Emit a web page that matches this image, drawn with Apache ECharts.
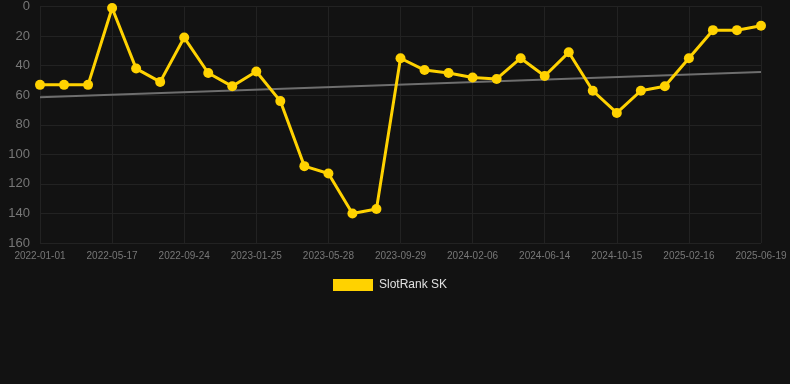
<!DOCTYPE html>
<html>
<head>
<meta charset="utf-8">
<script src="https://cdn.jsdelivr.net/npm/echarts@6/dist/echarts.min.js"></script>
<style>
  html, body { margin: 0; padding: 0; background: #121212; }
  #main { width: 790px; height: 384px; }
</style>
</head>
<body>
<div id="main"></div>
<script>
// dates (every 3rd one shown on the axis)
var dates = [
    '2022-01-01', '2022-02-15', '2022-04-01', '2022-05-17', '2022-07-01', '2022-08-10',
    '2022-09-24', '2022-11-08', '2022-12-20', '2023-01-25', '2023-03-10', '2023-04-20',
    '2023-05-28', '2023-07-10', '2023-08-20', '2023-09-29', '2023-11-10', '2023-12-25',
    '2024-02-06', '2024-03-20', '2024-05-01', '2024-06-14', '2024-07-28', '2024-09-05',
    '2024-10-15', '2024-11-28', '2025-01-05', '2025-02-16', '2025-03-30', '2025-05-10',
    '2025-06-19'
];
var rank = [53, 53, 53, 1, 42, 51, 21, 45, 54, 44, 64, 108, 113, 140, 137,
    35, 43, 45, 48, 49, 35, 47, 31, 57, 72, 57, 54, 35, 16, 16, 13];
// trend line ends
var trendStart = 61.4;
var trendEnd = 44.3;

var chart = echarts.init(document.getElementById('main'));

var option = {
    backgroundColor: '#121212',
    animation: false,
    grid: {
        left: 40,
        right: 29,
        top: 6,
        bottom: 141
    },
    legend: {
        top: 274,
        left: 328,
        itemWidth: 40,
        itemHeight: 12,
        itemGap: 10,
        icon: 'rect',
        textStyle: { color: '#e0e0e0', fontSize: 12, padding: [0, 0, 0, 1], fontFamily: 'Liberation Sans, Arial, sans-serif' },
        data: ['SlotRank SK']
    },
    xAxis: {
        type: 'category',
        boundaryGap: false,
        data: dates,
        axisLine: { show: false },
        axisTick: {
            show: true,
            interval: 2,
            length: 5,
            lineStyle: { color: '#222' }
        },
        axisLabel: {
            interval: 2,
            color: '#777',
            fontSize: 10,
            margin: 8,
            fontFamily: 'Liberation Sans, Arial, sans-serif'
        },
        splitLine: {
            show: true,
            interval: 2,
            lineStyle: { color: '#222' }
        }
    },
    yAxis: {
        type: 'value',
        inverse: true,
        min: 0,
        max: 160,
        interval: 20,
        axisLine: { show: false },
        axisTick: { show: false },
        axisLabel: {
            color: '#777',
            fontSize: 13,
            margin: 10,
            fontFamily: 'Liberation Sans, Arial, sans-serif'
        },
        splitLine: { lineStyle: { color: '#222' } }
    },
    series: [
        {
            name: 'trend',
            type: 'line',
            data: [[dates[0], trendStart], [dates[dates.length - 1], trendEnd]],
            symbol: 'none',
            lineStyle: { color: '#6e6e6e', width: 2 },
            z: 1
        },
        {
            name: 'SlotRank SK',
            type: 'line',
            data: rank,
            color: '#ffd200',
            symbol: 'circle',
            symbolSize: 10,
            lineStyle: { color: '#ffd200', width: 3 },
            itemStyle: { color: '#ffd200' },
            z: 2
        }
    ]
};

chart.setOption(option);
</script>
</body>
</html>
